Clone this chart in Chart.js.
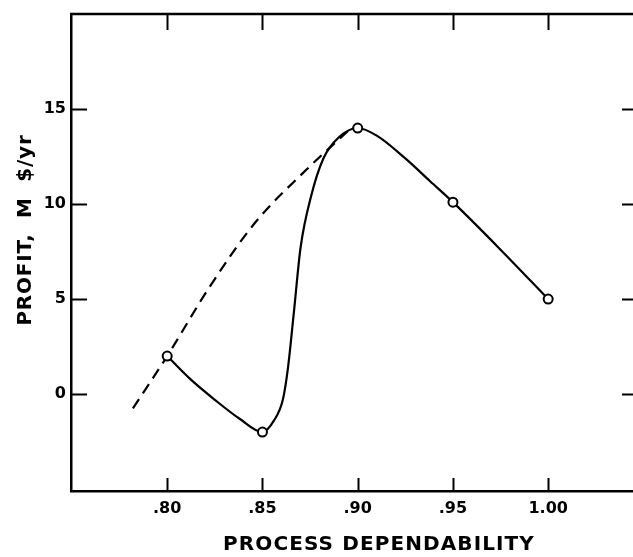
<!DOCTYPE html>
<html>
<head>
<meta charset="utf-8">
<script src="https://cdn.jsdelivr.net/npm/chart.js@4.4.1/dist/chart.umd.min.js"></script>
<style>
  html, body { margin: 0; background: #fff; overflow: hidden; }
  canvas { display: block; }
</style>
</head>
<body>
<canvas id="chart" width="633" height="557"></canvas>
<script>
// measured points (open circles)
const markerX = [0.80, 0.85, 0.90, 0.95, 1.00];
const markerY = [2.0, -2.0, 14.0, 10.1, 5.0];

// solid curve
const solidX = [0.800, 0.812, 0.825, 0.838, 0.850, 0.856, 0.8607, 0.8633, 0.8665, 0.870, 0.8755, 0.882, 0.890, 0.900, 0.910, 0.925, 0.938, 0.950, 0.975, 1.000];
const solidY = [2.0, 0.8, -0.3, -1.3, -2.0, -1.4, -0.3, 1.3, 4.3, 7.7, 10.4, 12.4, 13.5, 14.0, 13.6, 12.4, 11.2, 10.1, 7.6, 5.0];

// dashed curve
const dashX = [0.782, 0.800, 0.822, 0.846, 0.873, 0.895];
const dashY = [-0.75, 2.0, 5.6, 9.0, 11.8, 13.85];

const xTicks = [0.80, 0.85, 0.90, 0.95, 1.00];
const xTickLabels = [".80", ".85", ".90", ".95", "1.00"];
const yTicks = [0, 5, 10, 15];

const xTitle = "PROCESS DEPENDABILITY";
const yTitle = "PROFIT,  M  $/yr";

const FONT = "'DejaVu Sans', sans-serif";

const toPts = (xs, ys) => xs.map((x, i) => ({ x: x, y: ys[i] }));

// top spine, inward ticks on all four sides and axis titles
const frame = {
  id: "frame",
  afterDatasetsDraw(chart) {
    const { ctx, chartArea: a, scales } = chart;
    const x = scales.x, y = scales.y;
    ctx.save();
    ctx.strokeStyle = "#000";
    ctx.lineWidth = 2.5;
    ctx.beginPath();
    ctx.moveTo(a.left - 1, a.top);
    ctx.lineTo(a.right + 1, a.top);
    ctx.stroke();

    ctx.lineWidth = 2;
    ctx.beginPath();
    x.ticks.forEach(t => {
      const px = Math.round(x.getPixelForValue(t.value)) + 0.5;
      ctx.moveTo(px, a.bottom);
      ctx.lineTo(px, a.bottom - 13);
      ctx.moveTo(px, a.top);
      ctx.lineTo(px, a.top + 16);
    });
    y.ticks.forEach(t => {
      const py = Math.round(y.getPixelForValue(t.value)) + 0.5;
      ctx.moveTo(a.left, py);
      ctx.lineTo(a.left + 16, py);
      ctx.moveTo(a.right - 10, py);
      ctx.lineTo(a.right + 1, py);
    });
    ctx.stroke();

    ctx.fillStyle = "#000";
    ctx.textAlign = "center";
    ctx.textBaseline = "middle";
    ctx.font = "bold 20px " + FONT;
    ctx.letterSpacing = "1.1px";
    ctx.fillText(xTitle, a.left + 308, a.bottom + 54);

    ctx.translate(26, a.top + 216);
    ctx.rotate(-Math.PI / 2);
    ctx.font = "bold 20px " + FONT;
    ctx.letterSpacing = "0.8px";
    ctx.fillText(yTitle, 0, 0);
    ctx.restore();
  }
};

new Chart(document.getElementById("chart"), {
  type: "scatter",
  data: {
    datasets: [
      {
        data: toPts(markerX, markerY),
        showLine: false,
        pointRadius: 4.5,
        pointBorderWidth: 2,
        pointBorderColor: "#000",
        pointBackgroundColor: "#fff",
        order: 0
      },
      {
        data: toPts(solidX, solidY),
        showLine: true,
        borderColor: "#000",
        borderWidth: 2.2,
        pointRadius: 0,
        cubicInterpolationMode: "monotone",
        order: 1
      },
      {
        data: toPts(dashX, dashY),
        showLine: true,
        borderColor: "#000",
        borderWidth: 2.2,
        borderDash: [11, 7],
        pointRadius: 0,
        cubicInterpolationMode: "monotone",
        order: 2
      }
    ]
  },
  options: {
    responsive: false,
    animation: false,
    layout: { autoPadding: false, padding: { top: 14, right: 1, left: 0, bottom: 0 } },
    plugins: { legend: { display: false }, tooltip: { enabled: false } },
    scales: {
      x: {
        type: "linear",
        min: 0.7495,
        max: 1.044,
        afterBuildTicks: s => { s.ticks = xTicks.map(v => ({ value: v })); },
        afterFit: s => { s.height = 66; s.paddingLeft = 0; s.paddingRight = 0; },
        grid: { display: false, drawTicks: false },
        border: { display: true, color: "#000", width: 2.5 },
        ticks: {
          padding: 8,
          color: "#000",
          font: { family: FONT, size: 16, weight: "bold" },
          callback: v => xTickLabels[xTicks.indexOf(v)] ?? ""
        }
      },
      y: {
        type: "linear",
        min: -5.1,
        max: 20,
        afterBuildTicks: s => { s.ticks = yTicks.map(v => ({ value: v })); },
        afterFit: s => { s.width = 71; s.paddingTop = 0; s.paddingBottom = 0; },
        grid: { display: false, drawTicks: false },
        border: { display: true, color: "#000", width: 2.5 },
        ticks: {
          padding: 5,
          color: "#000",
          font: { family: FONT, size: 16, weight: "bold" }
        }
      }
    }
  },
  plugins: [frame]
});
</script>
</body>
</html>
